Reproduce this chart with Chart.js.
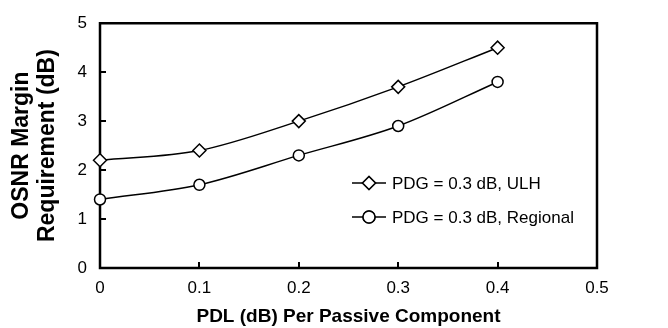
<!DOCTYPE html>
<html><head><meta charset="utf-8">
<script src="https://cdn.jsdelivr.net/npm/chart.js@4/dist/chart.umd.min.js"></script>
<style>html,body{margin:0;padding:0;background:#fff}#wrap{width:668px;height:328px}</style>
</head><body><div id="wrap"><canvas id="c" width="668" height="328"></canvas></div>
<script>
const pdl = [0, 0.1, 0.2, 0.3, 0.4];
const ulh = [2.2, 2.4, 3.0, 3.7, 4.5];
const regional = [1.4, 1.7, 2.3, 2.9, 3.8];
const xTicks = [0, 0.1, 0.2, 0.3, 0.4, 0.5];
const yTicks = [0, 1, 2, 3, 4, 5];
const seriesNames = ['PDG = 0.3 dB, ULH', 'PDG = 0.3 dB, Regional'];

const FONT = 'Liberation Sans, Arial, sans-serif';

const framePlugin = {
  id: 'frame',
  beforeDatasetsDraw(chart) {
    const {ctx, chartArea: a, scales: {x, y}} = chart;
    ctx.save();
    ctx.strokeStyle = '#000';
    ctx.lineWidth = 2.5;
    ctx.beginPath();
    ctx.moveTo(a.left, a.top - 1.25); ctx.lineTo(a.left, a.bottom + 1.25);
    ctx.moveTo(a.right, a.top - 1.25); ctx.lineTo(a.right, a.bottom + 1.25);
    ctx.moveTo(a.left, a.top); ctx.lineTo(a.right, a.top);
    ctx.moveTo(a.left, a.bottom); ctx.lineTo(a.right, a.bottom);
    ctx.stroke();
    ctx.lineWidth = 2;
    ctx.beginPath();
    yTicks.slice(1, -1).forEach(v => {
      const py = Math.round(y.getPixelForValue(v));
      ctx.moveTo(a.left, py); ctx.lineTo(a.left + 6, py);
    });
    xTicks.slice(1, -1).forEach(v => {
      const px = Math.round(x.getPixelForValue(v));
      ctx.moveTo(px, a.bottom); ctx.lineTo(px, a.bottom - 6);
    });
    ctx.stroke();
    ctx.restore();
  },
  afterDraw(chart) {
    const ctx = chart.ctx;
    ctx.save();
    ctx.strokeStyle = '#000';
    const items = [[seriesNames[0], 'rectRot', 6.5, 183], [seriesNames[1], 'circle', 6, 217]];
    items.forEach(([txt, style, r, ly]) => {
      ctx.lineWidth = 1.5;
      ctx.beginPath(); ctx.moveTo(352, ly); ctx.lineTo(386, ly); ctx.stroke();
      ctx.fillStyle = '#fff';
      Chart.helpers.drawPoint(ctx, {pointStyle: style, radius: r, borderWidth: 1.5}, 369, ly);
      ctx.fill(); ctx.stroke();
      ctx.fillStyle = '#000';
      ctx.font = '17px ' + FONT;
      ctx.textBaseline = 'middle';
      ctx.textAlign = 'left';
      ctx.fillText(txt, 392, ly + 1);
    });
    ctx.restore();
  }
};

const ds = (label, data, style, r) => ({
  label,
  data: pdl.map((p, i) => ({x: p, y: data[i]})),
  borderColor: '#000',
  borderWidth: 1.5,
  backgroundColor: '#fff',
  pointStyle: style,
  pointRadius: r,
  pointBorderWidth: 1.5,
  pointBackgroundColor: '#fff',
  pointBorderColor: '#000',
  tension: 0.25,
  cubicInterpolationMode: 'monotone',
  clip: false
});

new Chart(document.getElementById('c'), {
  type: 'line',
  data: {datasets: [ds(seriesNames[0], ulh, 'rectRot', 6.5), ds(seriesNames[1], regional, 'circle', 5.5)]},
  options: {
    responsive: false,
    animation: false,
    devicePixelRatio: 1,
    layout: {padding: {top: 17, right: 71, left: 0, bottom: 0}},
    plugins: {legend: {display: false}, tooltip: {enabled: false}},
    scales: {
      x: {
        type: 'linear', min: 0, max: 0.5,
        afterBuildTicks: s => { s.ticks = xTicks.map(v => ({value: v})); },
        afterFit: s => { s.height = 60; },
        grid: {display: false, drawTicks: false},
        border: {display: false},
        ticks: {color: '#000', font: {family: FONT, size: 17}, padding: 10, maxRotation: 0,
          callback: v => String(v)},
        title: {display: true, text: 'PDL (dB) Per Passive Component', color: '#000',
          font: {family: FONT, size: 19, weight: 'bold'}, padding: {top: 10, bottom: 0}}
      },
      y: {
        type: 'linear', min: 0, max: 5,
        afterBuildTicks: s => { s.ticks = yTicks.map(v => ({value: v})); },
        afterFit: s => { s.width = 100; },
        grid: {display: false, drawTicks: false},
        border: {display: false},
        ticks: {color: '#000', font: {family: FONT, size: 17}, padding: 13},
        title: {display: true, text: ['OSNR Margin', 'Requirement (dB)'], color: '#000',
          font: {family: FONT, size: 23, weight: 'bold', lineHeight: 1.15}, padding: {top: 8, bottom: 0}}
      }
    }
  },
  plugins: [framePlugin]
});
</script></body></html>
